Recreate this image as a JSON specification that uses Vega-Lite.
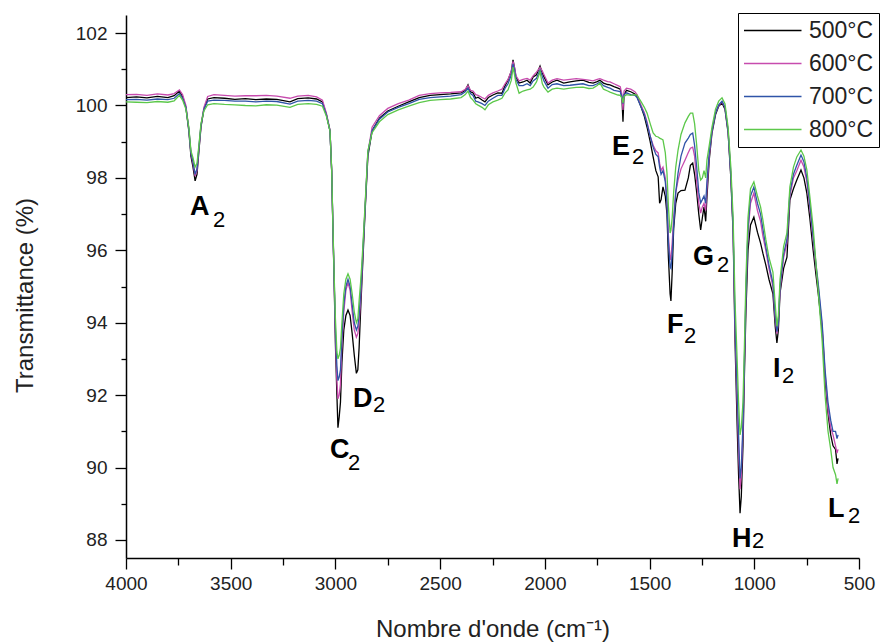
{
"$schema":"https://vega.github.io/schema/vega-lite/v6.json",
"width":733,"height":543,
"autosize":{"type":"none"},
"padding":{"left":126,"top":15,"right":25,"bottom":86},
"config":{"view":{"stroke":null},"font":"Liberation Sans"},
"datasets":{
"spec":[
{"x":4000,"500°C":100.22,"600°C":100.30,"700°C":100.16,"800°C":100.10},
{"x":3950,"500°C":100.24,"600°C":100.31,"700°C":100.17,"800°C":100.09},
{"x":3900,"500°C":100.21,"600°C":100.28,"700°C":100.15,"800°C":100.08},
{"x":3850,"500°C":100.25,"600°C":100.32,"700°C":100.18,"800°C":100.11},
{"x":3800,"500°C":100.22,"600°C":100.29,"700°C":100.16,"800°C":100.09},
{"x":3770,"500°C":100.27,"600°C":100.33,"700°C":100.20,"800°C":100.13},
{"x":3745,"500°C":100.40,"600°C":100.43,"700°C":100.33,"800°C":100.28},
{"x":3730,"500°C":100.25,"600°C":100.30,"700°C":100.20,"800°C":100.15},
{"x":3714,"500°C":99.95,"600°C":100.00,"700°C":99.95,"800°C":99.90},
{"x":3700,"500°C":99.30,"600°C":99.35,"700°C":99.35,"800°C":99.40},
{"x":3690,"500°C":98.60,"600°C":98.70,"700°C":98.70,"800°C":98.75},
{"x":3680,"500°C":98.30,"600°C":98.40,"700°C":98.45,"800°C":98.55},
{"x":3670,"500°C":97.92,"600°C":98.05,"700°C":98.10,"800°C":98.30},
{"x":3661,"500°C":98.10,"600°C":98.20,"700°C":98.25,"800°C":98.40},
{"x":3651,"500°C":98.80,"600°C":98.85,"700°C":98.90,"800°C":98.95},
{"x":3642,"500°C":99.40,"600°C":99.45,"700°C":99.45,"800°C":99.50},
{"x":3628,"500°C":99.90,"600°C":99.95,"700°C":99.90,"800°C":99.85},
{"x":3610,"500°C":100.18,"600°C":100.25,"700°C":100.12,"800°C":100.02},
{"x":3580,"500°C":100.22,"600°C":100.30,"700°C":100.15,"800°C":100.05},
{"x":3530,"500°C":100.20,"600°C":100.28,"700°C":100.14,"800°C":100.03},
{"x":3480,"500°C":100.17,"600°C":100.26,"700°C":100.12,"800°C":100.02},
{"x":3430,"500°C":100.19,"600°C":100.27,"700°C":100.12,"800°C":100.00},
{"x":3380,"500°C":100.16,"600°C":100.27,"700°C":100.10,"800°C":99.99},
{"x":3330,"500°C":100.18,"600°C":100.28,"700°C":100.12,"800°C":100.02},
{"x":3280,"500°C":100.17,"600°C":100.26,"700°C":100.11,"800°C":100.01},
{"x":3217,"500°C":100.10,"600°C":100.20,"700°C":100.04,"800°C":99.95},
{"x":3180,"500°C":100.19,"600°C":100.26,"700°C":100.12,"800°C":100.03},
{"x":3130,"500°C":100.21,"600°C":100.28,"700°C":100.14,"800°C":100.05},
{"x":3090,"500°C":100.18,"600°C":100.24,"700°C":100.12,"800°C":100.03},
{"x":3062,"500°C":100.10,"600°C":100.15,"700°C":100.05,"800°C":99.98},
{"x":3043,"500°C":99.75,"600°C":99.78,"700°C":99.74,"800°C":99.70},
{"x":3026,"500°C":99.30,"600°C":99.32,"700°C":99.30,"800°C":99.30},
{"x":3018,"500°C":98.20,"600°C":98.22,"700°C":98.22,"800°C":98.25},
{"x":3012,"500°C":96.60,"600°C":96.62,"700°C":96.65,"800°C":96.70},
{"x":3006,"500°C":95.10,"600°C":95.15,"700°C":95.20,"800°C":95.30},
{"x":3000,"500°C":93.40,"600°C":93.60,"700°C":93.80,"800°C":94.10},
{"x":2993,"500°C":92.00,"600°C":92.40,"700°C":92.80,"800°C":93.20},
{"x":2988,"500°C":91.10,"600°C":91.90,"700°C":92.40,"800°C":93.00},
{"x":2982,"500°C":91.40,"600°C":92.00,"700°C":92.50,"800°C":93.10},
{"x":2976,"500°C":91.80,"600°C":92.30,"700°C":92.70,"800°C":93.30},
{"x":2969,"500°C":92.90,"600°C":93.40,"700°C":93.60,"800°C":94.00},
{"x":2960,"500°C":93.80,"600°C":94.30,"700°C":94.50,"800°C":94.80},
{"x":2950,"500°C":94.20,"600°C":94.90,"700°C":95.00,"800°C":95.20},
{"x":2940,"500°C":94.35,"600°C":95.10,"700°C":95.20,"800°C":95.35},
{"x":2930,"500°C":94.20,"600°C":94.90,"700°C":95.00,"800°C":95.20},
{"x":2920,"500°C":93.70,"600°C":94.30,"700°C":94.50,"800°C":94.80},
{"x":2910,"500°C":93.10,"600°C":93.80,"700°C":94.00,"800°C":94.30},
{"x":2900,"500°C":92.60,"600°C":93.60,"700°C":93.80,"800°C":94.00},
{"x":2893,"500°C":92.70,"600°C":93.70,"700°C":93.90,"800°C":94.10},
{"x":2887,"500°C":93.30,"600°C":94.00,"700°C":94.20,"800°C":94.60},
{"x":2880,"500°C":94.30,"600°C":94.60,"700°C":94.80,"800°C":95.10},
{"x":2873,"500°C":95.20,"600°C":95.40,"700°C":95.50,"800°C":95.70},
{"x":2859,"500°C":97.00,"600°C":97.10,"700°C":97.10,"800°C":97.20},
{"x":2845,"500°C":98.60,"600°C":98.70,"700°C":98.70,"800°C":98.75},
{"x":2825,"500°C":99.30,"600°C":99.40,"700°C":99.30,"800°C":99.25},
{"x":2790,"500°C":99.65,"600°C":99.72,"700°C":99.62,"800°C":99.55},
{"x":2750,"500°C":99.85,"600°C":99.92,"700°C":99.82,"800°C":99.75},
{"x":2700,"500°C":99.98,"600°C":100.05,"700°C":99.95,"800°C":99.88},
{"x":2650,"500°C":100.10,"600°C":100.15,"700°C":100.05,"800°C":99.98},
{"x":2600,"500°C":100.22,"600°C":100.28,"700°C":100.17,"800°C":100.08},
{"x":2548,"500°C":100.28,"600°C":100.33,"700°C":100.22,"800°C":100.14},
{"x":2500,"500°C":100.30,"600°C":100.35,"700°C":100.24,"800°C":100.16},
{"x":2450,"500°C":100.32,"600°C":100.36,"700°C":100.26,"800°C":100.18},
{"x":2400,"500°C":100.35,"600°C":100.38,"700°C":100.30,"800°C":100.22},
{"x":2380,"500°C":100.42,"600°C":100.45,"700°C":100.38,"800°C":100.30},
{"x":2367,"500°C":100.57,"600°C":100.55,"700°C":100.48,"800°C":100.40},
{"x":2355,"500°C":100.38,"600°C":100.42,"700°C":100.33,"800°C":100.22},
{"x":2343,"500°C":100.35,"600°C":100.40,"700°C":100.28,"800°C":100.15},
{"x":2330,"500°C":100.20,"600°C":100.30,"700°C":100.12,"800°C":100.05},
{"x":2319,"500°C":100.23,"600°C":100.28,"700°C":100.10,"800°C":100.01},
{"x":2300,"500°C":100.15,"600°C":100.22,"700°C":100.05,"800°C":99.95},
{"x":2286,"500°C":100.10,"600°C":100.18,"700°C":100.00,"800°C":99.88},
{"x":2270,"500°C":100.22,"600°C":100.28,"700°C":100.12,"800°C":100.02},
{"x":2248,"500°C":100.29,"600°C":100.35,"700°C":100.20,"800°C":100.10},
{"x":2225,"500°C":100.35,"600°C":100.40,"700°C":100.28,"800°C":100.15},
{"x":2205,"500°C":100.34,"600°C":100.45,"700°C":100.28,"800°C":100.20},
{"x":2190,"500°C":100.55,"600°C":100.60,"700°C":100.48,"800°C":100.35},
{"x":2176,"500°C":100.70,"600°C":100.72,"700°C":100.60,"800°C":100.43},
{"x":2160,"500°C":100.95,"600°C":100.95,"700°C":100.85,"800°C":100.70},
{"x":2152,"500°C":101.26,"600°C":101.22,"700°C":101.15,"800°C":101.06},
{"x":2145,"500°C":101.05,"600°C":101.05,"700°C":100.98,"800°C":100.85},
{"x":2138,"500°C":100.79,"600°C":100.82,"700°C":100.72,"800°C":100.62},
{"x":2123,"500°C":100.62,"600°C":100.68,"700°C":100.55,"800°C":100.34},
{"x":2104,"500°C":100.65,"600°C":100.72,"700°C":100.55,"800°C":100.40},
{"x":2085,"500°C":100.70,"600°C":100.75,"700°C":100.60,"800°C":100.43},
{"x":2070,"500°C":100.62,"600°C":100.70,"700°C":100.55,"800°C":100.45},
{"x":2056,"500°C":100.79,"600°C":100.82,"700°C":100.68,"800°C":100.51},
{"x":2040,"500°C":100.85,"600°C":100.92,"700°C":100.75,"800°C":100.65},
{"x":2023,"500°C":101.09,"600°C":101.05,"700°C":100.98,"800°C":100.93},
{"x":2012,"500°C":100.90,"600°C":100.95,"700°C":100.80,"800°C":100.60},
{"x":2004,"500°C":100.79,"600°C":100.85,"700°C":100.68,"800°C":100.51},
{"x":1985,"500°C":100.57,"600°C":100.62,"700°C":100.48,"800°C":100.37},
{"x":1965,"500°C":100.65,"600°C":100.70,"700°C":100.58,"800°C":100.45},
{"x":1942,"500°C":100.70,"600°C":100.74,"700°C":100.60,"800°C":100.48},
{"x":1910,"500°C":100.62,"600°C":100.70,"700°C":100.55,"800°C":100.45},
{"x":1880,"500°C":100.65,"600°C":100.72,"700°C":100.56,"800°C":100.48},
{"x":1850,"500°C":100.68,"600°C":100.74,"700°C":100.58,"800°C":100.50},
{"x":1818,"500°C":100.70,"600°C":100.72,"700°C":100.60,"800°C":100.51},
{"x":1790,"500°C":100.64,"600°C":100.70,"700°C":100.55,"800°C":100.47},
{"x":1770,"500°C":100.62,"600°C":100.68,"700°C":100.55,"800°C":100.48},
{"x":1750,"500°C":100.66,"600°C":100.72,"700°C":100.60,"800°C":100.55},
{"x":1737,"500°C":100.70,"600°C":100.74,"700°C":100.65,"800°C":100.62},
{"x":1720,"500°C":100.62,"600°C":100.70,"700°C":100.55,"800°C":100.45},
{"x":1700,"500°C":100.58,"600°C":100.66,"700°C":100.50,"800°C":100.40},
{"x":1689,"500°C":100.57,"600°C":100.65,"700°C":100.48,"800°C":100.37},
{"x":1670,"500°C":100.52,"600°C":100.60,"700°C":100.42,"800°C":100.33},
{"x":1651,"500°C":100.48,"600°C":100.55,"700°C":100.40,"800°C":100.29},
{"x":1640,"500°C":100.45,"600°C":100.52,"700°C":100.38,"800°C":100.28},
{"x":1632,"500°C":100.20,"600°C":100.30,"700°C":100.25,"800°C":100.20},
{"x":1627,"500°C":99.55,"600°C":99.88,"700°C":100.05,"800°C":100.07},
{"x":1622,"500°C":100.30,"600°C":100.40,"700°C":100.30,"800°C":100.25},
{"x":1610,"500°C":100.42,"600°C":100.48,"700°C":100.35,"800°C":100.30},
{"x":1590,"500°C":100.38,"600°C":100.45,"700°C":100.30,"800°C":100.28},
{"x":1570,"500°C":100.32,"600°C":100.38,"700°C":100.28,"800°C":100.30},
{"x":1560,"500°C":100.25,"600°C":100.30,"700°C":100.22,"800°C":100.29},
{"x":1540,"500°C":99.95,"600°C":100.00,"700°C":99.95,"800°C":100.10},
{"x":1525,"500°C":99.70,"600°C":99.80,"700°C":99.75,"800°C":99.95},
{"x":1512,"500°C":99.40,"600°C":99.55,"700°C":99.50,"800°C":99.79},
{"x":1497,"500°C":99.00,"600°C":99.15,"700°C":99.15,"800°C":99.50},
{"x":1483,"500°C":98.58,"600°C":98.90,"700°C":98.85,"800°C":99.24},
{"x":1470,"500°C":98.20,"600°C":98.75,"700°C":98.65,"800°C":99.15},
{"x":1459,"500°C":98.03,"600°C":98.69,"700°C":98.58,"800°C":99.13},
{"x":1452,"500°C":97.30,"600°C":98.40,"700°C":98.30,"800°C":99.10},
{"x":1445,"500°C":97.40,"600°C":98.20,"700°C":98.10,"800°C":99.08},
{"x":1436,"500°C":97.75,"600°C":98.30,"700°C":98.20,"800°C":99.05},
{"x":1425,"500°C":97.50,"600°C":98.00,"700°C":97.90,"800°C":98.70},
{"x":1417,"500°C":97.00,"600°C":97.40,"700°C":97.30,"800°C":98.14},
{"x":1410,"500°C":95.80,"600°C":96.40,"700°C":96.20,"800°C":97.20},
{"x":1402,"500°C":94.80,"600°C":95.73,"700°C":95.54,"800°C":96.48},
{"x":1398,"500°C":94.60,"600°C":95.80,"700°C":95.50,"800°C":96.55},
{"x":1392,"500°C":95.40,"600°C":96.20,"700°C":95.90,"800°C":96.90},
{"x":1385,"500°C":96.60,"600°C":96.90,"700°C":96.70,"800°C":97.60},
{"x":1375,"500°C":97.30,"600°C":97.60,"700°C":97.60,"800°C":98.30},
{"x":1364,"500°C":97.58,"600°C":97.94,"700°C":98.13,"800°C":98.77},
{"x":1350,"500°C":97.65,"600°C":98.25,"700°C":98.60,"800°C":99.20},
{"x":1331,"500°C":97.66,"600°C":98.49,"700°C":98.96,"800°C":99.52},
{"x":1315,"500°C":98.00,"600°C":98.70,"700°C":99.10,"800°C":99.70},
{"x":1305,"500°C":98.35,"600°C":98.82,"700°C":99.20,"800°C":99.79},
{"x":1294,"500°C":98.41,"600°C":98.85,"700°C":99.24,"800°C":99.79},
{"x":1285,"500°C":98.10,"600°C":98.60,"700°C":98.90,"800°C":99.50},
{"x":1275,"500°C":97.60,"600°C":97.90,"700°C":98.30,"800°C":98.90},
{"x":1265,"500°C":97.00,"600°C":97.30,"700°C":97.60,"800°C":98.20},
{"x":1256,"500°C":96.56,"600°C":97.03,"700°C":97.31,"800°C":97.94},
{"x":1248,"500°C":96.90,"600°C":97.20,"700°C":97.40,"800°C":98.00},
{"x":1240,"500°C":97.20,"600°C":97.30,"700°C":97.50,"800°C":98.20},
{"x":1232,"500°C":96.80,"600°C":97.10,"700°C":97.30,"800°C":98.00},
{"x":1226,"500°C":97.47,"600°C":97.70,"700°C":97.90,"800°C":98.49},
{"x":1215,"500°C":98.50,"600°C":98.60,"700°C":98.70,"800°C":98.90},
{"x":1202,"500°C":99.24,"600°C":99.30,"700°C":99.30,"800°C":99.40},
{"x":1185,"500°C":99.75,"600°C":99.80,"700°C":99.80,"800°C":99.90},
{"x":1170,"500°C":99.98,"600°C":100.00,"700°C":100.02,"800°C":100.12},
{"x":1154,"500°C":100.07,"600°C":100.10,"700°C":100.12,"800°C":100.21},
{"x":1140,"500°C":99.90,"600°C":99.95,"700°C":99.95,"800°C":100.05},
{"x":1125,"500°C":99.24,"600°C":99.30,"700°C":99.30,"800°C":99.40},
{"x":1112,"500°C":98.00,"600°C":98.10,"700°C":98.10,"800°C":98.30},
{"x":1101,"500°C":96.48,"600°C":96.60,"700°C":96.60,"800°C":96.90},
{"x":1092,"500°C":93.50,"600°C":93.80,"700°C":94.00,"800°C":94.60},
{"x":1082,"500°C":91.20,"600°C":91.80,"700°C":92.20,"800°C":93.00},
{"x":1075,"500°C":89.80,"600°C":90.50,"700°C":90.90,"800°C":91.80},
{"x":1068,"500°C":88.74,"600°C":89.40,"700°C":89.70,"800°C":90.90},
{"x":1062,"500°C":89.20,"600°C":89.80,"700°C":90.00,"800°C":91.10},
{"x":1054,"500°C":90.60,"600°C":91.00,"700°C":91.20,"800°C":91.80},
{"x":1047,"500°C":92.60,"600°C":92.90,"700°C":93.00,"800°C":93.40},
{"x":1040,"500°C":94.30,"600°C":94.70,"700°C":94.80,"800°C":95.20},
{"x":1030,"500°C":96.00,"600°C":96.50,"700°C":96.60,"800°C":96.90},
{"x":1018,"500°C":96.70,"600°C":97.30,"700°C":97.50,"800°C":97.70},
{"x":1002,"500°C":96.92,"600°C":97.58,"700°C":97.75,"800°C":97.89},
{"x":985,"500°C":96.50,"600°C":97.10,"700°C":97.30,"800°C":97.50},
{"x":970,"500°C":96.20,"600°C":96.80,"700°C":97.00,"800°C":97.20},
{"x":959,"500°C":95.92,"600°C":96.40,"700°C":96.60,"800°C":96.84},
{"x":945,"500°C":95.60,"600°C":96.00,"700°C":96.10,"800°C":96.30},
{"x":930,"500°C":95.20,"600°C":95.50,"700°C":95.60,"800°C":95.80},
{"x":911,"500°C":94.80,"600°C":95.00,"700°C":95.10,"800°C":95.40},
{"x":900,"500°C":93.90,"600°C":94.10,"700°C":94.20,"800°C":94.50},
{"x":892,"500°C":93.44,"600°C":93.70,"700°C":93.75,"800°C":93.90},
{"x":885,"500°C":93.80,"600°C":94.00,"700°C":94.00,"800°C":94.20},
{"x":877,"500°C":94.82,"600°C":94.90,"700°C":95.00,"800°C":95.20},
{"x":860,"500°C":95.50,"600°C":95.80,"700°C":95.90,"800°C":96.10},
{"x":844,"500°C":95.81,"600°C":96.20,"700°C":96.30,"800°C":96.48},
{"x":830,"500°C":97.39,"600°C":97.50,"700°C":97.60,"800°C":97.75},
{"x":813,"500°C":97.70,"600°C":98.00,"700°C":98.10,"800°C":98.30},
{"x":797,"500°C":97.94,"600°C":98.20,"700°C":98.35,"800°C":98.58},
{"x":777,"500°C":98.22,"600°C":98.49,"700°C":98.63,"800°C":98.77},
{"x":763,"500°C":98.00,"600°C":98.30,"700°C":98.45,"800°C":98.60},
{"x":749,"500°C":97.58,"600°C":97.90,"700°C":98.00,"800°C":98.22},
{"x":735,"500°C":96.90,"600°C":97.20,"700°C":97.30,"800°C":97.50},
{"x":719,"500°C":96.01,"600°C":96.30,"700°C":96.40,"800°C":96.64},
{"x":705,"500°C":95.30,"600°C":95.50,"700°C":95.60,"800°C":95.60},
{"x":695,"500°C":94.82,"600°C":95.00,"700°C":95.10,"800°C":94.90},
{"x":676,"500°C":93.80,"600°C":93.90,"700°C":94.00,"800°C":93.50},
{"x":662,"500°C":92.42,"600°C":92.60,"700°C":92.70,"800°C":92.00},
{"x":648,"500°C":91.50,"600°C":91.60,"700°C":91.80,"800°C":91.00},
{"x":635,"500°C":90.90,"600°C":91.10,"700°C":91.30,"800°C":90.50},
{"x":624,"500°C":90.60,"600°C":90.90,"700°C":91.00,"800°C":90.00},
{"x":612,"500°C":90.50,"600°C":90.60,"700°C":91.00,"800°C":89.80},
{"x":605,"500°C":90.10,"600°C":90.40,"700°C":90.80,"800°C":89.55},
{"x":600,"500°C":90.25,"600°C":90.50,"700°C":90.90,"800°C":89.70}
],
"labels":[
{"letter":"A","x":3694,"y":96.97,"sx":3585,"sy":96.64,"sub":"2"},
{"letter":"C","x":3026,"y":90.26,"sx":2940,"sy":89.93,"sub":"2"},
{"letter":"D","x":2916,"y":91.67,"sx":2821,"sy":91.53,"sub":"2"},
{"letter":"E","x":1679,"y":98.63,"sx":1584,"sy":98.38,"sub":"2"},
{"letter":"F","x":1417,"y":93.72,"sx":1336,"sy":93.44,"sub":"2"},
{"letter":"G","x":1293,"y":95.59,"sx":1178,"sy":95.40,"sub":"2"},
{"letter":"H","x":1106,"y":87.80,"sx":1011,"sy":87.78,"sub":"2"},
{"letter":"I","x":911,"y":92.50,"sx":868,"sy":92.33,"sub":"2"},
{"letter":"L","x":648,"y":88.63,"sx":552,"sy":88.47,"sub":"2"}
]
},
"resolve":{"axis":{"x":"independent","y":"independent"}},
"layer":[
{
"data":{"name":"spec"},
"transform":[{"fold":["500°C","600°C","700°C","800°C"],"as":["series","T"]}],
"mark":{"type":"line","strokeWidth":1.3},
"encoding":{
"x":{"field":"x","type":"quantitative",
"scale":{"domain":[500,4000],"reverse":true,"nice":false,"zero":false},
"axis":{"orient":"bottom","values":[4000,3500,3000,2500,2000,1500,1000,500],"format":"d","grid":false,
"domainColor":"#000","domainWidth":1.5,"tickColor":"#000","tickWidth":1.3,"tickSize":11,
"labelFont":"Liberation Sans","labelFontSize":19,"labelColor":"#222","labelPadding":5,"labelFlush":false,"labelOverlap":false,
"title":"Nombre d'onde (cm⁻¹)","titleFont":"Liberation Sans","titleFontSize":24,"titleFontWeight":"normal","titleColor":"#222","titlePadding":24}},
"y":{"field":"T","type":"quantitative",
"scale":{"domain":[87.5,102.5],"nice":false,"zero":false},
"axis":{"orient":"left","values":[88,90,92,94,96,98,100,102],"grid":false,
"domainColor":"#000","domainWidth":1.5,"tickColor":"#000","tickWidth":1.3,"tickSize":11,
"labelFont":"Liberation Sans","labelFontSize":19,"labelColor":"#222","labelPadding":8,"labelFlush":false,"labelOverlap":false,
"title":"Transmittance (%)","titleFont":"Liberation Sans","titleFontSize":24,"titleFontWeight":"normal","titleColor":"#222","titlePadding":38,"titleY":280}},
"color":{"field":"series","type":"nominal",
"scale":{"domain":["500°C","600°C","700°C","800°C"],"range":["#000000","#C74BAE","#2F54A8","#5CC84A"]},
"legend":{"orient":"none","legendX":612,"legendY":-2,"title":null,
"symbolType":"M-1,0H4","symbolSize":529,"symbolStrokeWidth":1.5,
"labelFont":"Liberation Sans","labelFontSize":23,"labelColor":"#222","labelOffset":41,
"rowPadding":8,"padding":5,"strokeColor":"#000","fillColor":"#fff"}}
}
},
{
"data":{"name":"labels"},
"mark":{"type":"text","font":"Liberation Sans","fontWeight":"bold","fontSize":27,"align":"left","baseline":"alphabetic","color":"#000"},
"encoding":{
"x":{"field":"x","type":"quantitative","scale":{"domain":[500,4000],"reverse":true,"nice":false,"zero":false},
"axis":{"orient":"bottom","values":[3750,3250,2750,2250,1750,1250,750],"labels":false,"domain":false,"grid":false,"title":null,"tickColor":"#000","tickWidth":1.3,"tickSize":7}},
"y":{"field":"y","type":"quantitative","scale":{"domain":[87.5,102.5],"nice":false,"zero":false},
"axis":{"orient":"left","values":[89,91,93,95,97,99,101],"labels":false,"domain":false,"grid":false,"title":null,"tickColor":"#000","tickWidth":1.3,"tickSize":5}},
"text":{"field":"letter"}
}
},
{
"data":{"name":"labels"},
"mark":{"type":"text","font":"Liberation Sans","fontSize":22,"align":"left","baseline":"alphabetic","color":"#000"},
"encoding":{
"x":{"field":"sx","type":"quantitative","scale":{"domain":[500,4000],"reverse":true,"nice":false,"zero":false},"axis":null},
"y":{"field":"sy","type":"quantitative","scale":{"domain":[87.5,102.5],"nice":false,"zero":false},"axis":null},
"text":{"field":"sub"}
}
}
]
}
